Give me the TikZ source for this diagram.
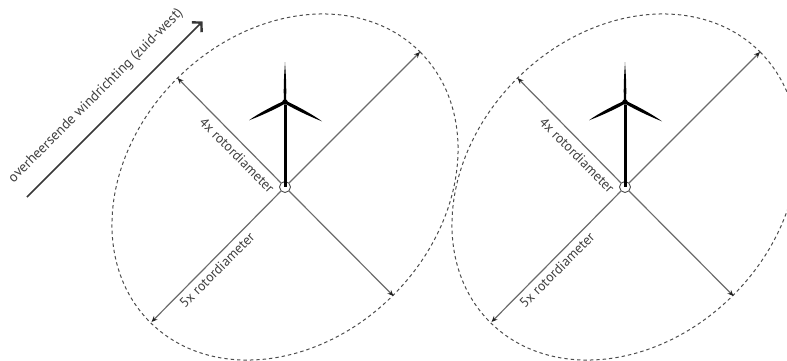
\documentclass[tikz,border=0pt]{standalone}
\usepackage{fontspec}
\setmainfont{PT Sans}
\usetikzlibrary{arrows.meta}
\definecolor{ink}{gray}{0.13}
\definecolor{dashc}{gray}{0.3}
\definecolor{radius}{gray}{0.42}
\definecolor{lab}{gray}{0.25}
\tikzset{
  x=1pt,y=-1pt,
  zone/.style={draw=dashc,line width=1pt,dash pattern=on 3.4pt off 3pt},
  radiusline/.style={draw=radius,line width=1.2pt,-{Stealth[length=6pt,width=5pt,color=ink]}},
  lbl/.style={font=\fontsize{13.8}{15}\selectfont,text=lab,inner sep=0pt},
  windlbl/.style={font=\fontsize{14.2}{16}\selectfont,text=lab,inner sep=0pt},
  windarrow/.style={draw=ink!90,line width=1.7pt,-{Straight Barb[length=6.5pt,width=14pt,line width=2.4pt]}},
  tower/.style={draw=black,line width=3pt},
  basering/.style={circle,draw=dashc,line width=0.9pt,minimum size=11pt,inner sep=0pt},
  hub/.style={circle,fill=black,minimum size=5.5pt,inner sep=0pt},
  blade/.style={fill=black,draw=none}
}
\begin{document}
\begin{tikzpicture}
\useasboundingbox (0,0) rectangle (787,360);
\clip (0,0) rectangle (787,360);
\coordinate (w0) at (27,197);
\coordinate (w1) at (202.5,21.5);
\draw[windarrow] (w0) -- (w1);
\node[windlbl,rotate=45] (windlabel) at (96,96) {overheersende windrichting (zuid-west)};
\foreach \n/\cx in {a/285,b/625}{
  \coordinate (\n c) at (\cx,187);
  \draw[zone,rotate around={45:(\n c)}] (\n c) ellipse [x radius=191,y radius=153];
  \coordinate (\n nw) at (\cx-107.5,78);
  \coordinate (\n ne) at (\cx+135,52);
  \coordinate (\n sw) at (\cx-133.5,322);
  \coordinate (\n se) at (\cx+108.5,296);
  \node[basering] (\n base) at (\n c) {};
  \draw[radiusline] (\n base) -- (\n nw);
  \draw[radiusline] (\n base) -- (\n ne);
  \draw[radiusline] (\n base) -- (\n sw);
  \draw[radiusline] (\n base) -- (\n se);
  \node[lbl,rotate=-45] (\n four) at (\cx-48,155) {4x rotordiameter};
  \node[lbl,rotate=45] (\n five) at (\cx-68,270) {5x rotordiameter};
  \node[hub] (\n hub) at (\cx,102) {};
  \draw[tower] (\n hub) -- (\n c);
  \fill[blade] (\cx-1,102) .. controls (\cx-1.8,85) and (\cx-0.6,72) .. (\cx,62) .. controls (\cx+0.6,72) and (\cx+1.8,85) .. (\cx+1,102) -- cycle;
  \fill[blade] (\cx,100.4) .. controls (\cx-10,105) and (\cx-26,113) .. (\cx-36,120.3) .. controls (\cx-26,116.5) and (\cx-10,109.5) .. (\cx,103.6) -- cycle;
  \fill[blade] (\cx,100.4) .. controls (\cx+10,105) and (\cx+27,114) .. (\cx+37,121.3) .. controls (\cx+27,117.5) and (\cx+10,109.5) .. (\cx,103.6) -- cycle;
}
\end{tikzpicture}
\end{document}
